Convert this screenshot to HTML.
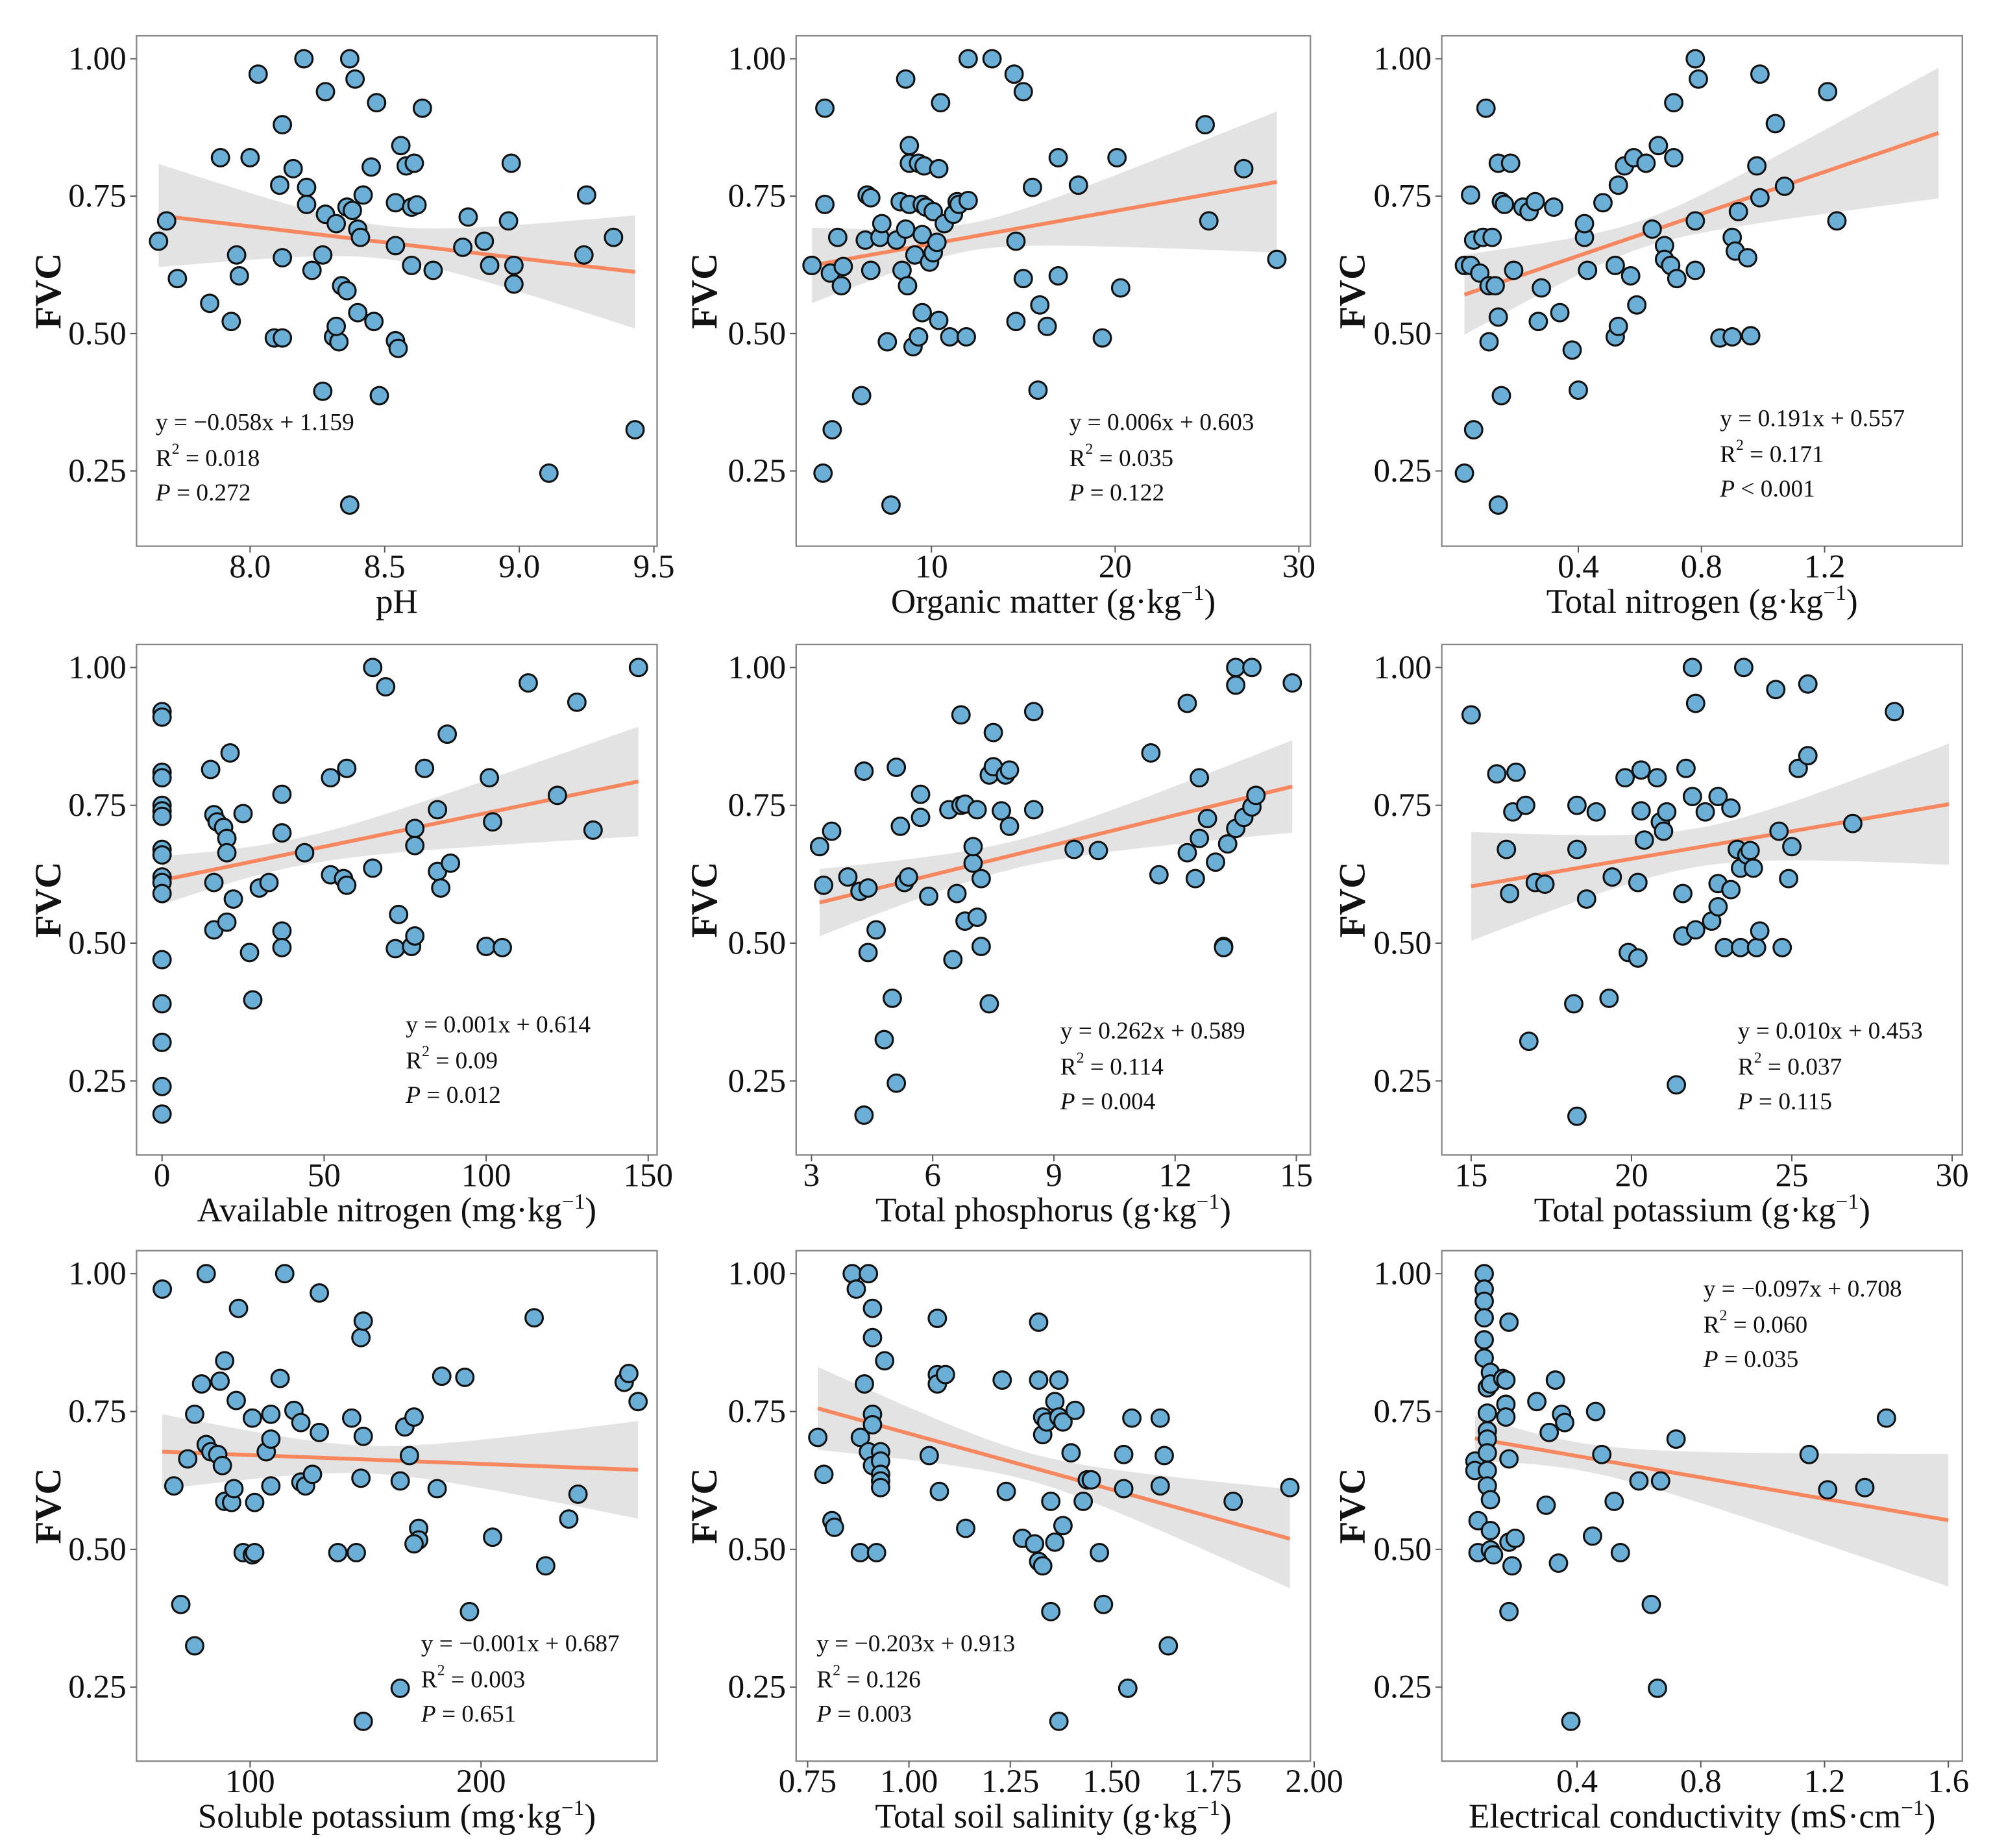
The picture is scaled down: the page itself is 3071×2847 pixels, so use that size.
<!DOCTYPE html>
<html><head><meta charset="utf-8"><style>
html,body{margin:0;padding:0;background:#fff;}
svg{display:block;}
text{font-family:"Liberation Serif",serif;fill:#111;}
</style></head><body>
<svg id="chart" width="3071" height="2847" viewBox="0 0 1562 1448" xmlns="http://www.w3.org/2000/svg"></svg>
<script>
// ---- data (x values, FVC values) ----
const pH_x=[7.66,7.69,7.73,7.85,7.89,7.93,7.95,7.96,8.0,8.03,8.09,8.12,8.11,8.12,8.12,8.16,8.21,8.2,8.21,8.27,8.28,8.28,8.27,8.23,8.31,8.33,8.32,8.32,8.34,8.36,8.36,8.37,8.37,8.38,8.39,8.40,8.40,8.41,8.42,8.45,8.46,8.47,8.48,8.54,8.55,8.54,8.54,8.56,8.58,8.6,8.6,8.61,8.62,8.64,8.68,8.79,8.81,8.87,8.89,8.96,8.97,8.98,8.98,9.24,9.25,9.35,9.11,9.43];
const pH_y=[0.668,0.705,0.60,0.555,0.82,0.522,0.643,0.605,0.82,0.972,0.492,0.88,0.77,0.638,0.492,0.80,0.766,1.0,0.735,0.395,0.94,0.717,0.643,0.615,0.494,0.485,0.513,0.70,0.587,0.578,0.73,0.188,1.0,0.724,0.963,0.69,0.538,0.675,0.752,0.803,0.522,0.92,0.387,0.487,0.473,0.738,0.66,0.842,0.805,0.73,0.624,0.81,0.734,0.91,0.615,0.657,0.712,0.668,0.624,0.705,0.81,0.59,0.624,0.643,0.752,0.675,0.246,0.325];
const om_x=[3.5,4.2,4.1,4.2,4.6,4.5,4.9,5.1,5.2,6.2,6.4,6.5,6.7,6.7,7.2,7.3,7.6,7.8,8.1,8.3,8.6,8.4,8.6,8.8,8.8,8.8,8.7,9.1,9.0,9.3,9.3,9.5,9.5,9.5,9.6,9.7,9.9,10.1,10.1,10.3,10.4,10.5,10.4,10.7,11.0,11.2,11.4,11.5,11.9,12.0,12.0,13.3,14.5,14.6,14.6,15.0,15.0,15.5,15.8,15.9,16.3,16.9,16.9,18.0,19.3,20.1,20.3,24.9,25.1,27.0,28.8];
const om_y=[0.624,0.91,0.246,0.735,0.325,0.61,0.675,0.587,0.622,0.387,0.67,0.752,0.747,0.615,0.675,0.70,0.485,0.188,0.67,0.74,0.963,0.615,0.69,0.842,0.81,0.735,0.587,0.643,0.476,0.81,0.494,0.735,0.68,0.538,0.805,0.73,0.63,0.647,0.722,0.666,0.80,0.92,0.524,0.70,0.494,0.717,0.74,0.735,0.494,1.0,0.742,1.0,0.972,0.522,0.668,0.94,0.60,0.766,0.397,0.552,0.513,0.82,0.605,0.77,0.492,0.82,0.583,0.88,0.705,0.80,0.635];
const tn_x=[0.03,0.03,0.05,0.05,0.06,0.06,0.08,0.10,0.09,0.11,0.11,0.12,0.13,0.14,0.14,0.14,0.15,0.15,0.16,0.18,0.19,0.22,0.24,0.26,0.27,0.28,0.32,0.34,0.38,0.40,0.42,0.42,0.43,0.48,0.52,0.52,0.53,0.53,0.55,0.57,0.58,0.59,0.62,0.64,0.66,0.68,0.68,0.70,0.71,0.71,0.72,0.78,0.78,0.79,0.78,0.86,0.90,0.90,0.91,0.92,0.95,0.96,0.98,0.99,0.99,1.04,1.07,1.21,1.24];
const tn_y=[0.624,0.246,0.752,0.624,0.67,0.325,0.61,0.91,0.675,0.587,0.485,0.675,0.587,0.53,0.188,0.81,0.387,0.74,0.735,0.81,0.615,0.73,0.722,0.74,0.522,0.583,0.73,0.538,0.47,0.397,0.675,0.70,0.615,0.738,0.624,0.494,0.513,0.77,0.805,0.605,0.82,0.552,0.81,0.69,0.842,0.66,0.635,0.624,0.92,0.82,0.60,0.615,1.0,0.963,0.705,0.492,0.675,0.494,0.65,0.722,0.638,0.496,0.805,0.747,0.972,0.882,0.768,0.94,0.705];
const an_x=[0,0,0,0,0,0,0,0,0,0,0,0,0,0,0,0,0,15,16,17,16,16,19,20,20,20,21,22,25,27,28,30,33,37,37,37,37,44,52,52,56,57,57,65,65,69,72,73,77,78,78,78,81,85,85,86,88,89,101,102,100,105,113,122,128,133,147];
const an_y=[0.92,0.91,0.81,0.80,0.75,0.74,0.73,0.67,0.66,0.62,0.61,0.59,0.47,0.39,0.32,0.24,0.19,0.815,0.733,0.72,0.61,0.524,0.71,0.69,0.664,0.538,0.845,0.58,0.735,0.483,0.397,0.60,0.61,0.70,0.77,0.522,0.492,0.664,0.80,0.624,0.617,0.817,0.605,1.0,0.636,0.965,0.49,0.552,0.494,0.708,0.677,0.513,0.817,0.63,0.742,0.60,0.879,0.645,0.80,0.72,0.494,0.492,0.972,0.768,0.937,0.705,1.0];
const tp_x=[3.2,3.3,3.5,3.9,4.2,4.3,4.3,4.4,4.4,4.6,4.8,5.0,5.1,5.1,5.2,5.3,5.4,5.7,5.7,5.9,6.4,6.5,6.6,6.7,6.7,6.8,6.8,7.0,7.0,7.1,7.1,7.2,7.2,7.4,7.4,7.5,7.5,7.7,7.8,7.9,7.9,8.5,8.5,9.5,10.1,11.4,11.6,12.3,12.3,12.5,12.6,12.6,12.8,13.0,13.2,13.2,13.3,13.5,13.5,13.5,13.7,13.9,13.9,14.0,14.9];
const tp_y=[0.675,0.605,0.703,0.62,0.594,0.188,0.812,0.483,0.60,0.524,0.325,0.40,0.819,0.246,0.712,0.61,0.62,0.77,0.728,0.585,0.742,0.47,0.59,0.914,0.75,0.54,0.752,0.645,0.675,0.742,0.547,0.494,0.617,0.39,0.805,0.882,0.82,0.74,0.805,0.814,0.712,0.742,0.92,0.67,0.668,0.845,0.624,0.935,0.664,0.617,0.69,0.80,0.726,0.647,0.494,0.492,0.68,1.0,0.968,0.708,0.728,1.0,0.747,0.768,0.972];
const tk_x=[15.0,15.8,16.1,16.2,16.3,16.4,16.7,16.8,17.0,17.3,18.2,18.3,18.3,18.3,18.6,18.9,19.3,19.4,19.8,19.9,20.2,20.2,20.3,20.3,20.4,20.8,20.9,21.0,21.1,21.4,21.6,21.7,21.6,21.9,21.9,22.0,22.0,22.3,22.5,22.7,22.7,22.7,22.9,23.1,23.1,23.3,23.4,23.4,23.5,23.6,23.7,23.8,23.9,24.0,24.5,24.6,24.7,24.9,25.0,25.2,25.5,25.5,26.9,28.2];
const tk_y=[0.914,0.807,0.67,0.59,0.738,0.81,0.75,0.322,0.61,0.607,0.39,0.186,0.67,0.75,0.58,0.738,0.40,0.62,0.80,0.483,0.473,0.61,0.814,0.74,0.687,0.80,0.72,0.703,0.738,0.243,0.59,0.817,0.513,0.766,1.0,0.935,0.524,0.738,0.54,0.566,0.766,0.608,0.492,0.597,0.745,0.67,0.492,0.636,1.0,0.66,0.668,0.636,0.492,0.522,0.96,0.703,0.492,0.617,0.675,0.817,0.84,0.97,0.717,0.92];
const sk_x=[62,67,70,73,76,76,79,81,81,83,86,87,88,89,89,92,93,94,95,97,101,102,101,102,107,109,109,109,113,115,119,122,122,124,127,130,130,138,144,146,148,148,149,149,149,165,165,167,169,171,173,173,171,181,183,193,195,205,223,228,238,242,262,264,268];
const sk_y=[0.972,0.615,0.40,0.664,0.325,0.745,0.80,1.0,0.69,0.677,0.672,0.805,0.652,0.842,0.587,0.585,0.61,0.77,0.937,0.494,0.49,0.585,0.738,0.494,0.677,0.70,0.615,0.745,0.81,1.0,0.752,0.73,0.622,0.615,0.636,0.965,0.712,0.494,0.738,0.494,0.884,0.629,0.705,0.914,0.188,0.248,0.624,0.722,0.67,0.74,0.538,0.517,0.51,0.61,0.814,0.812,0.387,0.522,0.92,0.47,0.555,0.60,0.803,0.819,0.768];
const ts_x=[0.775,0.79,0.81,0.816,0.86,0.87,0.90,0.91,0.91,0.88,0.92,0.89,0.91,0.91,0.88,0.90,0.91,0.93,0.93,0.93,0.93,0.93,0.94,1.05,1.07,1.07,1.07,1.075,1.09,1.14,1.23,1.24,1.28,1.31,1.32,1.32,1.32,1.33,1.33,1.34,1.35,1.33,1.35,1.36,1.36,1.37,1.37,1.37,1.38,1.38,1.41,1.40,1.43,1.44,1.45,1.47,1.48,1.53,1.53,1.54,1.55,1.62,1.63,1.62,1.64,1.80,1.94];
const ts_y=[0.703,0.636,0.552,0.54,1.0,0.972,1.0,0.937,0.884,0.494,0.494,0.80,0.745,0.726,0.703,0.677,0.652,0.677,0.66,0.636,0.624,0.612,0.842,0.67,0.919,0.817,0.80,0.605,0.817,0.538,0.807,0.605,0.52,0.51,0.478,0.912,0.807,0.74,0.708,0.731,0.387,0.47,0.587,0.768,0.513,0.807,0.188,0.74,0.731,0.543,0.752,0.675,0.587,0.626,0.626,0.494,0.40,0.672,0.61,0.248,0.738,0.738,0.67,0.615,0.325,0.587,0.612];
const ec_x=[0.07,0.07,0.08,0.08,0.10,0.10,0.10,0.10,0.10,0.10,0.11,0.11,0.11,0.11,0.11,0.11,0.11,0.12,0.12,0.12,0.12,0.12,0.13,0.16,0.17,0.17,0.17,0.18,0.18,0.18,0.18,0.19,0.20,0.27,0.30,0.31,0.33,0.34,0.35,0.36,0.38,0.45,0.46,0.48,0.52,0.54,0.60,0.64,0.66,0.67,0.72,1.15,1.21,1.33,1.40];
const ec_y=[0.66,0.643,0.552,0.494,1.0,0.972,0.95,0.92,0.88,0.847,0.793,0.747,0.715,0.70,0.675,0.643,0.615,0.59,0.499,0.534,0.821,0.80,0.49,0.81,0.763,0.807,0.74,0.664,0.387,0.912,0.513,0.47,0.52,0.768,0.58,0.712,0.807,0.475,0.745,0.73,0.188,0.524,0.75,0.672,0.587,0.494,0.624,0.40,0.248,0.624,0.70,0.672,0.608,0.612,0.738];

// fit lines [slope, intercept], fitted x range max, CI [centre x, min half-width, growth]
const fitSlope=[-0.058,0.006,0.191,0.00122,0.018,0.010,-0.00016,-0.203,-0.097];
const fitIntercept=[1.159,0.603,0.565,0.614,0.516,0.453,0.687,0.913,0.708];
const fitXmax=[null,null,1.57,null,null,29.9,null,null,1.6];
const ciCentre=[8.5,12,0.6,40,8,22,150,1.3,0.4];
const ciMin=[0.03,0.025,0.025,0.025,0.025,0.035,0.025,0.025,0.025];
const ciGrowth=[0.106,0.0075,0.12,0.0009,0.0116,0.0132,0.00072,0.135,0.098];

const yTickVals=[0.25,0.5,0.75,1.0];
const yTickLabels=["0.25","0.50","0.75","1.00"];
const xTicks=[[8.0,8.5,9.0,9.5],[10,20,30],[0.4,0.8,1.2],[0,50,100,150],[3,6,9,12,15],[15,20,25,30],[100,200],[0.75,1.0,1.25,1.5,1.75,2.0],[0.4,0.8,1.2,1.6]];
const xTickLabels=[["8.0","8.5","9.0","9.5"],["10","20","30"],["0.4","0.8","1.2"],["0","50","100","150"],["3","6","9","12","15"],["15","20","25","30"],["100","200"],["0.75","1.00","1.25","1.50","1.75","2.00"],["0.4","0.8","1.2","1.6"]];
const eqText=[["y = −0.058x + 1.159","0.018","= 0.272"],["y = 0.006x + 0.603","0.035","= 0.122"],["y = 0.191x + 0.557","0.171"," <  0.001"],["y = 0.001x + 0.614","0.09","= 0.012"],["y = 0.262x + 0.589","0.114","= 0.004"],["y = 0.010x + 0.453","0.037","= 0.115"],["y = −0.001x + 0.687","0.003","= 0.651"],["y = −0.203x + 0.913","0.126","= 0.003"],["y = −0.097x + 0.708","0.060","= 0.035"]];
const xTitles=[["pH",""],["Organic matter (g·kg","−1",")"],["Total nitrogen (g·kg","−1",")"],["Available nitrogen (mg·kg","−1",")"],["Total phosphorus (g·kg","−1",")"],["Total potassium (g·kg","−1",")"],["Soluble potassium (mg·kg","−1",")"],["Total soil salinity (g·kg","−1",")"],["Electrical conductivity (mS·cm","−1",")"]];
const names=["ph","organic-matter","total-nitrogen","available-nitrogen","total-phosphorus","total-potassium","soluble-potassium","total-soil-salinity","electrical-conductivity"];
const XS=[pH_x,om_x,tn_x,an_x,tp_x,tk_x,sk_x,ts_x,ec_x];
const YS=[pH_y,om_y,tn_y,an_y,tp_y,tk_y,sk_y,ts_y,ec_y];

// ---- layout ----
const cols=[[107,515],[624,1027],[1130,1538]];
const rows=[[28,428],[505,905],[980,1380]];
const rowY=[[46,369],[523,847],[998,1322]];
const xAnchor=[[8.0,196,9.0,407],[10,730,30,1018],[0.4,1237,1.2,1430],[0,127,150,508],[3,636,15,1016],[15,1153,30,1530],[100,196,200,377],[0.75,633,2.0,1030],[0.4,1236,1.6,1527]];
const eqPos=[[122,331],[838,331],[1348,328],[318,803],[831,808],[1362,808],[330,1288],[640,1288],[1335,1010]];

const NS="http://www.w3.org/2000/svg";
const svg=document.getElementById('chart');
function mk(tag,attrs,parent){const e=document.createElementNS(NS,tag);for(const k in attrs)e.setAttribute(k,attrs[k]);(parent||svg).appendChild(e);return e;}

for(let p=0;p<9;p++){
  const c=cols[p%3], r=rows[Math.floor(p/3)], ry=rowY[Math.floor(p/3)], xa=xAnchor[p];
  const sx=v=>xa[1]+(v-xa[0])*(xa[3]-xa[1])/(xa[2]-xa[0]);
  const sy=v=>ry[0]+(1-v)*(ry[1]-ry[0])/0.75;
  const g=mk('g',{});
  
  
  const box=mk('rect',{x:c[0],y:r[0],width:c[1]-c[0],height:r[1]-r[0],fill:'#fff',stroke:'#888','stroke-width':1.2},g);
  
  
  const xmin=Math.min(...XS[p]);
  const xmax=fitXmax[p]!==null?fitXmax[p]:Math.max(...XS[p]);
  let up=[],lo=[],N=40;
  for(let i=0;i<=N;i++){const x=xmin+(xmax-xmin)*i/N;const m=fitSlope[p]*x+fitIntercept[p];const h=Math.sqrt(ciMin[p]**2+(ciGrowth[p]*(x-ciCentre[p]))**2);up.push(sx(x)+','+sy(m+h));lo.unshift(sx(x)+','+sy(m-h));}
  const band=mk('polygon',{points:up.concat(lo).join(' '),fill:'#dedede',opacity:0.85},g);
  
  
  const ln=mk('line',{x1:sx(xmin),y1:sy(fitSlope[p]*xmin+fitIntercept[p]),x2:sx(xmax),y2:sy(fitSlope[p]*xmax+fitIntercept[p]),stroke:'#f7875f','stroke-width':3},g);
  
  
  for(let i=0;i<XS[p].length;i++){
    const pt=mk('circle',{cx:sx(XS[p][i]),cy:sy(YS[p][i]),r:6.8,fill:'#6baed6',stroke:'#111','stroke-width':1.6},g);
    
    
  }
  for(let i=0;i<yTickVals.length;i++){
    const y=sy(yTickVals[i]);
    mk('line',{x1:c[0]-5,y1:y,x2:c[0],y2:y,stroke:'#555','stroke-width':1},g);
    const t=mk('text',{x:c[0]-8,y:y,'text-anchor':'end','dominant-baseline':'central','font-size':26},g);
    t.textContent=yTickLabels[i];
    
    
  }
  for(let i=0;i<xTicks[p].length;i++){
    const x=sx(xTicks[p][i]);
    mk('line',{x1:x,y1:r[1],x2:x,y2:r[1]+5,stroke:'#555','stroke-width':1},g);
    const t=mk('text',{x:x,y:r[1]+16,'text-anchor':'middle','dominant-baseline':'central','font-size':26},g);
    t.textContent=xTickLabels[p][i];
    
    
  }
  const yt=mk('text',{x:0,y:0,transform:`translate(${p%3===0?38:(p%3===1?552:1060)},${(r[0]+r[1])/2}) rotate(-90)`,'text-anchor':'middle','dominant-baseline':'central','font-size':29,'font-weight':'bold'},g);
  yt.textContent='FVC';
  
  
  const xt=mk('text',{x:(c[0]+c[1])/2,y:r[1]+52,'text-anchor':'middle','font-size':27},g);
  
  
  const tt=xTitles[p];
  const s1=mk('tspan',{},xt); s1.textContent=tt[0];
  if(tt.length>2){const s2=mk('tspan',{dy:-10,'font-size':17},xt);s2.textContent=tt[1];const s3=mk('tspan',{dy:10},xt);s3.textContent=tt[2];}
  const [ex,ey]=eqPos[p];
  const e1=mk('text',{x:ex,y:ey,'dominant-baseline':'central','font-size':19},g);
  e1.textContent=eqText[p][0];
  
  
  const e2=mk('text',{x:ex,y:ey+28,'dominant-baseline':'central','font-size':19},g);
  
  
  const a=mk('tspan',{},e2);a.textContent='R';const b=mk('tspan',{dy:-7,'font-size':12},e2);b.textContent='2';const d=mk('tspan',{dy:7},e2);d.textContent=' = '+eqText[p][1];
  const e3=mk('text',{x:ex,y:ey+55,'dominant-baseline':'central','font-size':19},g);
  
  
  const pi=mk('tspan',{'font-style':'italic'},e3);pi.textContent='P';const pv=mk('tspan',{},e3);pv.textContent=' '+eqText[p][2];
}
</script>
</body></html>
